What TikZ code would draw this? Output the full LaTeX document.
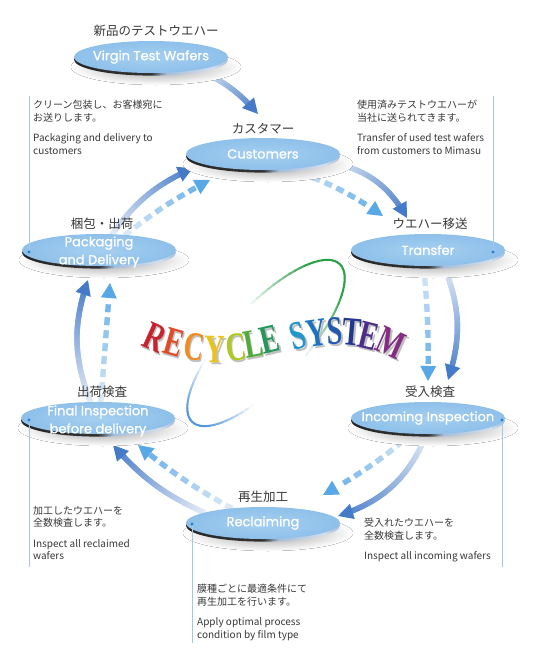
\documentclass[tikz,border=0pt]{standalone}
\usepackage{graphicx}
\usepackage{fontspec}
\usetikzlibrary{positioning,shapes.geometric,decorations.markings,backgrounds}
\newfontfamily\jpfont{Noto Sans CJK JP}
\newfontfamily\diskfont{Poppins}[FakeBold=0.8]
\newfontfamily\logofont{Liberation Serif}

\definecolor{diskin}{RGB}{165,207,240}
\definecolor{diskout}{RGB}{142,192,234}
\definecolor{rimblue}{RGB}{165,190,218}
\definecolor{solidend}{RGB}{68,122,200}
\definecolor{solidstart}{RGB}{228,236,246}
\definecolor{dashend}{RGB}{88,168,230}
\definecolor{dashstart}{RGB}{222,234,247}
\definecolor{guideblue}{RGB}{165,198,232}
\definecolor{dotblue}{RGB}{40,128,205}
\definecolor{textgray}{RGB}{55,55,55}
\definecolor{ellgreen}{RGB}{40,160,70}
\definecolor{ellblue}{RGB}{80,150,220}
\definecolor{logoA}{RGB}{200,35,45}
\definecolor{logoB}{RGB}{225,75,40}
\definecolor{logoC}{RGB}{240,140,35}
\definecolor{logoD}{RGB}{235,195,30}
\definecolor{logoE}{RGB}{175,200,40}
\definecolor{logoF}{RGB}{80,170,60}
\definecolor{logoG}{RGB}{40,150,90}
\definecolor{logoH}{RGB}{35,150,205}
\definecolor{logoI}{RGB}{30,115,190}
\definecolor{logoJ}{RGB}{35,90,175}
\definecolor{logoK}{RGB}{35,55,145}
\definecolor{logoL}{RGB}{75,45,140}
\definecolor{logoM}{RGB}{130,45,130}

\pgfdeclarehorizontalshading{rimshade}{100bp}{color(0bp)=(black!85); color(25bp)=(black!85);
  color(50bp)=(black!80); color(55bp)=(rimblue); color(70bp)=(rimblue!50!white); color(75bp)=(rimblue); color(100bp)=(rimblue)}

% one piece of a shaded shaft
\newcommand\flowbit[3]{%
  \pgfmathtruncatemacro\flowmix{100*\pgfkeysvalueof{/pgf/decoration/mark info/distance from start}/\pgfdecoratedpathlength}%
  \fill[#3!\flowmix!#2] (-#1,-2.7pt) rectangle (#1,2.7pt);}

% shadow, rim and top of a wafer
\newcommand\wafer[3]{%
  \fill[inner color=black!40, outer color=white] (#2+5,#3+10) ellipse [x radius=85, y radius=18];
  \shade[shading=rimshade] (#2,#3+2.6) ellipse [x radius=77, y radius=16];
  \node[disk] (#1) at (#2,#3) {};}

\tikzset{
  disk/.style={ellipse, minimum width=154pt, minimum height=32pt, inner sep=0pt, outer sep=0pt,
    inner color=diskin, outer color=diskout},
  disktext/.style={text=white, font=\diskfont\fontsize{13}{18}\selectfont, align=center, inner sep=0pt},
  jplabel/.style={text=textgray, font=\jpfont\fontsize{12.5}{14}\selectfont, inner sep=0pt},
  note/.style={text=textgray, font=\jpfont\fontsize{10}{12.5}\selectfont, align=left, inner sep=0pt, anchor=north west},
  guide/.style={guideblue, line width=0.7pt},
  logo/.style={font=\logofont\bfseries\fontsize{36}{36}\selectfont, inner sep=0pt},
  solidflow/.style={decorate, decoration={markings,
      mark=between positions 0 and -13pt step 1.2pt with {\flowbit{1.2pt}{solidstart}{solidend}},
      mark=at position 1 with {\fill[solidend] (0,0) -- (-15pt,8pt) -- (-15pt,-8pt) -- cycle;}}},
  dashflow/.style={decorate, decoration={markings,
      mark=between positions 3pt and -16pt step 13pt with {\flowbit{4pt}{dashstart}{dashend}},
      mark=at position 1 with {\fill[dashend] (0,0) -- (-15pt,8pt) -- (-15pt,-8pt) -- cycle;}}},
}

\begin{document}
\begin{tikzpicture}[x=1pt, y=-1pt]
\useasboundingbox (0,0) rectangle (534,651);

% wafers
\wafer{virgin}{151}{57}
\wafer{cust}{263}{154}
\wafer{pack}{99}{250}
\wafer{transfer}{428}{250}
\wafer{final}{98}{418}
\wafer{incoming}{428}{418}
\wafer{reclaim}{263}{523}

\node[disktext] (virgin-t) at (virgin) {Virgin Test Wafers};
\node[disktext] (cust-t) at (cust) {Customers};
\node[disktext] (pack-t) at ([yshift=-2pt]pack.center) {Packaging\\and Delivery};
\node[disktext] (transfer-t) at (transfer) {Transfer};
\node[disktext] (final-t) at ([yshift=-3pt]final.center) {Final Inspection\\before delivery};
\node[disktext] (incoming-t) at (incoming) {Incoming Inspection};
\node[disktext] (reclaim-t) at (reclaim) {Reclaiming};

\node[jplabel, above=4pt of virgin, xshift=5pt] (virgin-jp) {新品のテストウエハー};
\node[jplabel, above=4pt of cust] (cust-jp) {カスタマー};
\node[jplabel, above=4pt of pack, xshift=3pt] (pack-jp) {梱包・出荷};
\node[jplabel, above=4pt of transfer, xshift=2pt] (transfer-jp) {ウエハー移送};
\node[jplabel, above=4pt of final, xshift=4pt] (final-jp) {出荷検査};
\node[jplabel, above=4pt of incoming, xshift=2pt] (incoming-jp) {受入検査};
\node[jplabel, above=4pt of reclaim] (reclaim-jp) {再生加工};

% guide lines
\coordinate (packdot) at (29,252);
\coordinate (packtop) at (29,96);
\coordinate (transdot) at (493,252);
\coordinate (transtop) at (493,96);
\coordinate (findot) at (29,420);
\coordinate (finbot) at (29,567);
\coordinate (incdot) at (502,420);
\coordinate (incbot) at (502,567);
\coordinate (recdot) at (192,524);
\coordinate (recbot) at (192,643);
\draw[guide] (packdot) -- (packtop);
\draw[guide] (transdot) -- (transtop);
\draw[guide] (findot) -- (finbot);
\draw[guide] (incdot) -- (incbot);
\draw[guide] (recdot) -- (recbot);
\foreach \d in {packdot,transdot,findot,incdot,recdot}
  \fill[dotblue] (\d) circle (1.7);

\node[note] (pack-note) at (33,100) {クリーン包装し、お客様宛に\\お送りします。\\[8pt]Packaging and delivery to\\customers};
\node[note] (transfer-note) at (357,100) {使用済みテストウエハーが\\当社に送られてきます。\\[8pt]Transfer of used test wafers\\from customers to Mimasu};
\node[note] (final-note) at (33,506) {加工したウエハーを\\全数検査します。\\[8pt]Inspect all reclaimed\\wafers};
\node[note] (incoming-note) at (364,518) {受入れたウエハーを\\全数検査します。\\[8pt]Inspect all incoming wafers};
\node[note] (reclaim-note) at (197,584) {膜種ごとに最適条件にて\\再生加工を行います。\\[8pt]Apply optimal process\\condition by film type};

% flow arrows
\begin{scope}[on background layer]
\coordinate (tip1) at (258,114);
\coordinate (tip2s) at (407,218);
\coordinate (tip2d) at (383,216);
\coordinate (tip3s) at (448,380);
\coordinate (tip3d) at (428,381);
\coordinate (tip4s) at (338,516);
\coordinate (tip4d) at (323,495);
\coordinate (tip5s) at (113,445);
\coordinate (tip5d) at (138,445);
\coordinate (tip6s) at (88,280);
\coordinate (tip6d) at (110,283);
\coordinate (tip7s) at (193,168);
\coordinate (tip7d) at (210,180);
\path[solidflow] (virgin.-15) to[bend left=12] (tip1);
\path[solidflow] (cust.-7) to[bend left=25] (tip2s);
\path[dashflow] (cust.-30) to[bend left=8] (tip2d);
\path[solidflow] (transfer.-45) to[bend left=20] (tip3s);
\path[dashflow] (transfer.-105) to[bend left=3] (tip3d);
\path[solidflow] (incoming.-95) to[bend left=25] (tip4s);
\path[dashflow] (incoming.-135) to[bend left=5] (tip4d);
\path[solidflow] (reclaim.170) to[bend left=12] (tip5s);
\path[dashflow] (reclaim.155) to[bend left=5] (tip5d);
\path[solidflow] (final.115) to[bend left=20] (tip6s);
\path[dashflow] (final.80) to (tip6d);
\path[solidflow] (pack.50) to[bend left=15] (tip7s);
\path[dashflow] (pack.30) to[bend left=5] (tip7d);
\end{scope}

% ring behind the title
\begin{scope}[shift={(266,343)}, rotate=47]
\foreach \t in {0,4,...,356} {
  \pgfmathtruncatemacro\gval{max(0,min(100,150*cos(\t+2)-20))}
  \pgfmathtruncatemacro\bval{max(0,min(100,-220*cos(\t+2)-110))}
  \ifnum\gval>0
    \draw[line width=2pt, line cap=round, ellgreen!\gval!white] plot[domain=\t:\t+4.5, samples=3] ({108*cos(\x)},{38*sin(\x)});
  \fi
  \ifnum\bval>0
    \draw[line width=2pt, line cap=round, ellblue!\bval!white] plot[domain=\t:\t+4.5, samples=3] ({108*cos(\x)},{38*sin(\x)});
  \fi
}
\end{scope}

% title
\foreach \ch/\px/\py/\rot/\col [count=\i] in {
  R/155/338/-24/logoA, E/174/342/-16/logoB, C/194/347/-8/logoC, Y/215/349/-1/logoD,
  C/236/347/6/logoE, L/253/344/10/logoF, E/270/340/13/logoG, S/298/336/14/logoH,
  Y/317/333/8/logoI, S/335/331/2/logoJ, T/352/332/-5/logoK, E/369/336/-14/logoL,
  M/391/343/-24/logoM} {
  \node[logo, text=black!25, rotate=\rot] (rsh\i) at (\px+1.5,\py+2) {\scalebox{0.78}[1.12]{\ch}};
  \node[logo, text=\col, rotate=\rot] (rs\i) at (\px,\py) {\scalebox{0.78}[1.12]{\ch}};
}
\end{tikzpicture}
\end{document}
